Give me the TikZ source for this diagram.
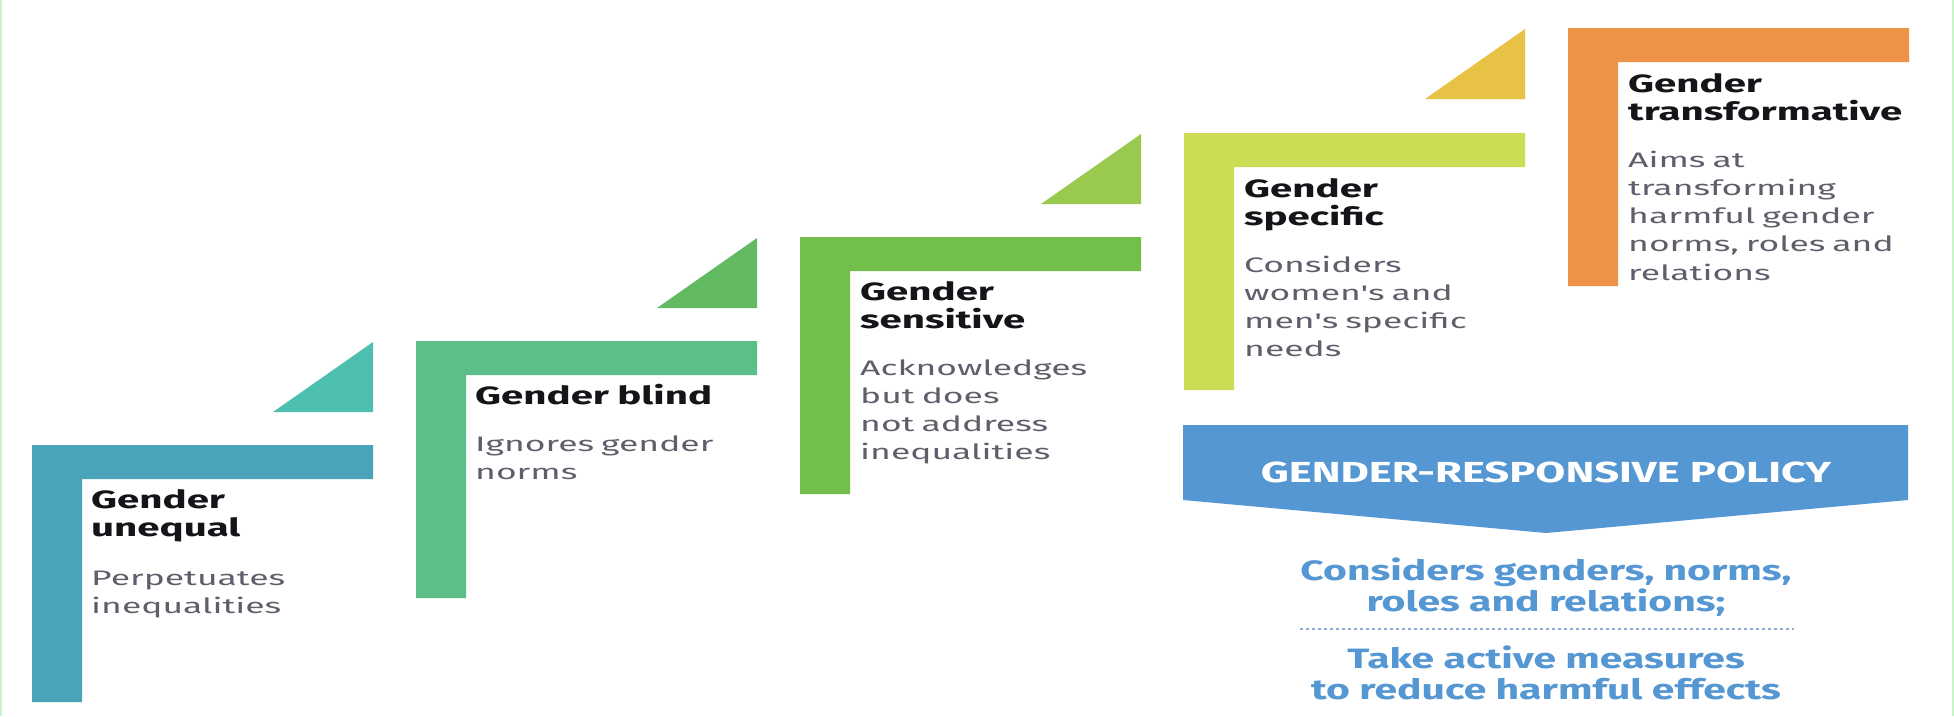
\documentclass[tikz,border=0pt]{standalone}
\usepackage{fontspec}
\newfontfamily\headfont[FakeStretch=1.61]{Fira Sans}
\newfontfamily\stepfont[FakeStretch=1.69]{Fira Sans}
\newfontfamily\policyfont[FakeStretch=1.5]{Fira Sans}
\newfontfamily\measurefont[FakeStretch=1.46]{Fira Sans}

\definecolor{unequalL}{RGB}{75,163,186}
\definecolor{unequalT}{RGB}{77,191,174}
\definecolor{blindL}{RGB}{92,191,138}
\definecolor{blindT}{RGB}{98,187,99}
\definecolor{sensitiveL}{RGB}{114,191,75}
\definecolor{sensitiveT}{RGB}{154,201,79}
\definecolor{specificL}{RGB}{204,221,85}
\definecolor{specificT}{RGB}{232,194,68}
\definecolor{transformL}{RGB}{238,146,69}
\definecolor{policyblue}{RGB}{85,151,210}
\definecolor{headgray}{RGB}{20,20,25}
\definecolor{bodygray}{RGB}{95,95,108}
\definecolor{dotblue}{RGB}{140,172,210}
\definecolor{framegreen}{RGB}{200,245,200}

\tikzset{
  head/.style={anchor=base west, inner sep=0pt, text width=330pt, align=left,
    text=headgray, font=\headfont\bfseries\fontsize{25}{28}\selectfont},
  desc/.style={anchor=base west, inner sep=0pt, text width=330pt, align=left,
    text=bodygray, font=\stepfont\fontsize{21}{28.3}\selectfont},
  policytext/.style={anchor=base, inner sep=0pt, text width=700pt, align=center,
    text=policyblue, font=\measurefont\bfseries\fontsize{28}{31.5}\selectfont},
}

\begin{document}
\begin{tikzpicture}[x=1pt,y=-1pt]
  \useasboundingbox[fill=white] (0,0) rectangle (1954,716);
  \draw[framegreen, line width=2pt] (1,0) -- (1,716) (1953,0) -- (1953,716);

  % steps
  \fill[unequalL] (32,445) -- ++(341,0) -- ++(0,34) -- ++(-291,0) -- ++(0,223) -- ++(-50,0) -- cycle;
  \fill[unequalT] (273,412) -- ++(100,-70) -- ++(0,70) -- cycle;
  \node[head] (head1) at (91,508) {Gender\\unequal};
  \node[desc] (desc1) at (91,585) {Perpetuates\\inequalities};

  \fill[blindL] (416,341) -- ++(341,0) -- ++(0,34) -- ++(-291,0) -- ++(0,223) -- ++(-50,0) -- cycle;
  \fill[blindT] (657,308) -- ++(100,-70) -- ++(0,70) -- cycle;
  \node[head] (head2) at (475,404) {Gender blind};
  \node[desc] (desc2) at (475,451) {Ignores gender\\norms};

  \fill[sensitiveL] (800,237) -- ++(341,0) -- ++(0,34) -- ++(-291,0) -- ++(0,223) -- ++(-50,0) -- cycle;
  \fill[sensitiveT] (1041,204) -- ++(100,-70) -- ++(0,70) -- cycle;
  \node[head] (head3) at (860,300) {Gender\\sensitive};
  \node[desc] (desc3) at (860,375) {Acknowledges\\but does\\not address\\inequalities};

  \fill[specificL] (1184,133) -- ++(341,0) -- ++(0,34) -- ++(-291,0) -- ++(0,223) -- ++(-50,0) -- cycle;
  \fill[specificT] (1425,99) -- ++(100,-70) -- ++(0,70) -- cycle;
  \node[head] (head4) at (1244,197) {Gender\\specific};
  \node[desc] (desc4) at (1244,272) {Considers\\women's and\\men's specific\\needs};

  \fill[transformL] (1568,28) -- ++(341,0) -- ++(0,34) -- ++(-291,0) -- ++(0,224) -- ++(-50,0) -- cycle;
  \node[head] (head5) at (1628,92) {Gender\\transformative};
  \node[desc] (desc5) at (1628,167) {Aims at\\transforming\\harmful gender\\norms, roles and\\relations};

  % policy banner
  \fill[policyblue] (1183,425) -- (1908,425) -- (1908,500) -- (1546,533) -- (1183,500) -- cycle;
  \node[anchor=base, inner sep=0pt, text=white, font=\policyfont\bfseries\fontsize{29}{32}\selectfont]
    (banner) at (1546,482) {GENDER-RESPONSIVE POLICY};
  \node[policytext] (considers) at (1546,580) {Considers genders, norms,\\roles and relations;};
  \coordinate (dotL) at (1300,629);
  \coordinate (dotR) at (1794,629);
  \draw[dotblue, line width=2.5pt, dash pattern=on 2.5pt off 3.5pt] (dotL) -- (dotR);
  \node[policytext] (measures) at (1546,668) {Take active measures\\to reduce harmful effects};
\end{tikzpicture}
\end{document}
